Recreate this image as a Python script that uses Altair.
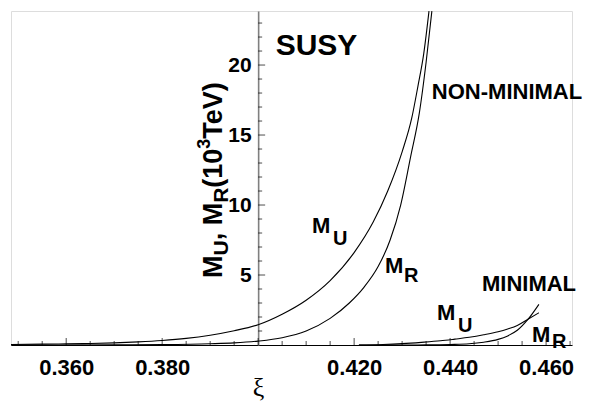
import altair as alt
import pandas as pd

# ---------------- data ----------------
nm_mu_xi = [0.3485, 0.355, 0.360, 0.365, 0.370, 0.375, 0.380, 0.385, 0.390, 0.395, 0.400,
            0.405, 0.410, 0.415, 0.420, 0.424, 0.427, 0.430, 0.432, 0.4333, 0.4345, 0.4356]
nm_mu_val = [0.04, 0.06, 0.08, 0.11, 0.15, 0.22, 0.32, 0.47, 0.70, 1.02, 1.45,
             2.2, 3.2, 4.6, 6.6, 8.8, 11.0, 13.8, 16.2, 18.5, 20.8, 23.85]

nm_mr_xi = [0.3485, 0.370, 0.380, 0.390, 0.395, 0.400, 0.405, 0.410, 0.415, 0.419,
            0.422, 0.425, 0.4275, 0.4297, 0.4318, 0.4336, 0.4350, 0.4362]
nm_mr_val = [0.0, 0.01, 0.03, 0.09, 0.15, 0.28, 0.52, 1.0, 1.9, 3.0,
             4.1, 5.6, 7.5, 10.0, 13.5, 16.6, 20.2, 23.85]

mi_mu_xi = [0.421, 0.426, 0.430, 0.434, 0.438, 0.441, 0.444, 0.447, 0.450, 0.452, 0.454, 0.4563, 0.4585]
mi_mu_val = [0.0, 0.04, 0.1, 0.19, 0.3, 0.42, 0.55, 0.73, 0.95, 1.15, 1.4, 1.86, 2.3]

mi_mr_xi = [0.421, 0.430, 0.435, 0.440, 0.444, 0.447, 0.450, 0.452, 0.454, 0.4563, 0.4585]
mi_mr_val = [0.0, 0.0, 0.01, 0.04, 0.09, 0.2, 0.4, 0.65, 1.05, 1.86, 2.9]

x_label_ticks = [0.36, 0.38, 0.42, 0.44, 0.46]
x_major_ticks = [0.36, 0.38, 0.40, 0.42, 0.44, 0.46]
x_minor_ticks = [0.350, 0.355, 0.365, 0.370, 0.375, 0.385, 0.390, 0.395, 0.405, 0.410,
                 0.415, 0.425, 0.430, 0.435, 0.445, 0.450, 0.455, 0.465]
y_major_ticks = [5, 10, 15, 20]
y_minor_ticks = [1, 2, 3, 4, 6, 7, 8, 9, 11, 12, 13, 14, 16, 17, 18, 19, 21, 22, 23]

# ---------------- layout ----------------
W, H = 561, 334
LEFT, TOP = 11, 11
x_dom = [0.3485, 0.4654]
y_dom = [0.0, 23.86]
x_axis_pos = 0.400


def dx(px):
    return x_dom[0] + (px - LEFT) / W * (x_dom[1] - x_dom[0])


def dy(py):
    return y_dom[1] - (py - TOP) / H * (y_dom[1] - y_dom[0])


xs = alt.Scale(domain=x_dom, nice=False, zero=False)
ys = alt.Scale(domain=y_dom, nice=False, zero=False)
FONT = "Liberation Sans"

y_offset_px = -(x_axis_pos - x_dom[0]) / (x_dom[1] - x_dom[0]) * W

X_AXIS = alt.Axis(
    values=x_label_ticks, format=".3f", ticks=False, grid=False,
    domainColor="black", domainWidth=1,
    labelFont=FONT, labelFontWeight="bold", labelFontSize=22, labelColor="black",
    labelPadding=12, labelFlush=False,
    title="ξ", titleFont="Liberation Serif", titleFontSize=26, titleFontWeight="normal",
    titleColor="black", titleX=-y_offset_px, titleY=50, titleBaseline="alphabetic")
Y_AXIS = alt.Axis(
    values=y_major_ticks, ticks=False, grid=False, offset=y_offset_px,
    domainColor="#808080", domainWidth=1.6,
    labelFont=FONT, labelFontWeight="bold", labelFontSize=21, labelColor="black",
    labelPadding=7, title=None)

curves = pd.concat([
    pd.DataFrame({"xi": nm_mu_xi, "m": nm_mu_val, "curve": "nm_mu"}),
    pd.DataFrame({"xi": nm_mr_xi, "m": nm_mr_val, "curve": "nm_mr"}),
    pd.DataFrame({"xi": mi_mu_xi, "m": mi_mu_val, "curve": "mi_mu"}),
    pd.DataFrame({"xi": mi_mr_xi, "m": mi_mr_val, "curve": "mi_mr"}),
])

lines = alt.Chart(curves).mark_line(color="black", strokeWidth=1.1, interpolate="monotone").encode(
    x=alt.X("xi:Q", scale=xs, axis=X_AXIS),
    y=alt.Y("m:Q", scale=ys, axis=Y_AXIS),
    detail="curve:N",
)

# tick marks pointing into the plot
xmaj = alt.Chart(pd.DataFrame({"t": x_major_ticks})).mark_tick(
    orient="vertical", size=7, thickness=1, color="black", yOffset=-3.5).encode(
    x=alt.X("t:Q", scale=xs, axis=X_AXIS), y=alt.Y(datum=0, scale=ys, axis=Y_AXIS))
xmin = alt.Chart(pd.DataFrame({"t": x_minor_ticks})).mark_tick(
    orient="vertical", size=4, thickness=1, color="black", yOffset=-2).encode(
    x=alt.X("t:Q", scale=xs, axis=X_AXIS), y=alt.Y(datum=0, scale=ys, axis=Y_AXIS))
ymaj = alt.Chart(pd.DataFrame({"t": y_major_ticks})).mark_tick(
    orient="horizontal", size=7, thickness=1, color="black", xOffset=3.5).encode(
    y=alt.Y("t:Q", scale=ys, axis=Y_AXIS), x=alt.X(datum=x_axis_pos, scale=xs, axis=X_AXIS))
ymin = alt.Chart(pd.DataFrame({"t": y_minor_ticks})).mark_tick(
    orient="horizontal", size=4, thickness=1, color="black", xOffset=2).encode(
    y=alt.Y("t:Q", scale=ys, axis=Y_AXIS), x=alt.X(datum=x_axis_pos, scale=xs, axis=X_AXIS))

# ---------------- annotations ----------------
centered = pd.DataFrame({
    "x": [dx(316.5), dx(507), dx(529)],
    "y": [dy(45.5), dy(91.5), dy(283.5)],
    "t": ["SUSY", "NON-MINIMAL", "MINIMAL"],
    "s": [30, 22, 22],
})
labels_c = alt.Chart(centered).mark_text(
    font=FONT, fontWeight="bold", color="black", align="center", baseline="middle", clip=False).encode(
    x=alt.X("x:Q", scale=xs, axis=X_AXIS), y=alt.Y("y:Q", scale=ys, axis=Y_AXIS),
    text="t:N", size=alt.Size("s:Q", scale=None))

curve_lbl = pd.DataFrame({
    "x": [dx(312), dx(333), dx(385), dx(404), dx(437), dx(458), dx(532), dx(552)],
    "y": [dy(233), dy(245), dy(273), dy(282), dy(320), dy(332), dy(342), dy(348)],
    "t": ["M", "U", "M", "R", "M", "U", "M", "R"],
    "s": [22, 20, 22, 20, 22, 20, 22, 20],
})
labels_m = alt.Chart(curve_lbl).mark_text(
    font=FONT, fontWeight="bold", color="black", align="left", baseline="alphabetic", clip=False).encode(
    x=alt.X("x:Q", scale=xs, axis=X_AXIS), y=alt.Y("y:Q", scale=ys, axis=Y_AXIS),
    text="t:N", size=alt.Size("s:Q", scale=None))

# rotated y title  M_U, M_R(10^3TeV)
em = {'M': 0.833, 'U': 0.722, ',': 0.278, ' ': 0.278, 'R': 0.722, '(': 0.333,
      '1': 0.556, '0': 0.556, '3': 0.556, 'T': 0.611, 'e': 0.556, 'V': 0.667, ')': 0.333}
pieces = [("M", 27, 0), ("U", 21, 6), (", M", 27, 0), ("R", 21, 6),
          ("(10", 27, 0), ("3", 18, -12), ("TeV)", 27, 0)]
base_x, start_y = 222, 278
rows = []
cur = start_y
for txt, sz, shift in pieces:
    rows.append({"x": dx(base_x + shift), "y": dy(cur), "t": txt, "s": sz})
    cur -= sum(em[c] for c in txt) * sz
ytitle = alt.Chart(pd.DataFrame(rows)).mark_text(
    font=FONT, fontWeight="bold", color="black", align="left", baseline="alphabetic",
    angle=270, clip=False).encode(
    x=alt.X("x:Q", scale=xs, axis=X_AXIS), y=alt.Y("y:Q", scale=ys, axis=Y_AXIS),
    text="t:N", size=alt.Size("s:Q", scale=None))

chart = alt.layer(lines, xmaj, xmin, ymaj, ymin, labels_c, labels_m, ytitle).properties(
    width=W, height=H, autosize="none",
    padding={"left": LEFT, "top": TOP, "right": 591 - LEFT - W, "bottom": 417 - TOP - H},
).configure_view(stroke=None).configure(background="white")

chart.save("out.html", embed_options={"renderer": "svg", "actions": False})
